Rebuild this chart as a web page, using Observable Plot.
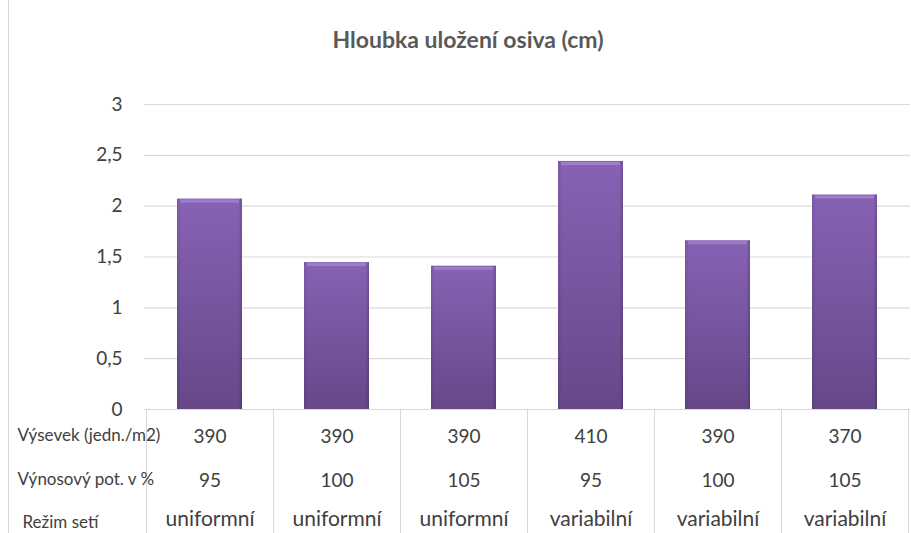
<!DOCTYPE html>
<html>
<head>
<meta charset="utf-8">
<script src="https://cdn.jsdelivr.net/npm/d3@7"></script>
<script src="https://cdn.jsdelivr.net/npm/@observablehq/plot@0.6"></script>
<style>
  body { margin: 0; background: #fff; }
  #wrap { position: relative; width: 911px; height: 533px; overflow: hidden; background: #fff; font-family: Lato, "Open Sans", sans-serif; }
  #border { position: absolute; left: 8px; top: 0; width: 1px; height: 533px; background: #d9d9d9; }
  #title { box-sizing: border-box; height: 70px; padding-top: 25px; padding-left: 25px; font-size: 23px; line-height: 28px; font-weight: bold; color: #595959; text-align: center; }
  svg { display: block; }
</style>
</head>
<body>
<div id="wrap">
  <div id="border"></div>
  <div id="title">Hloubka uložení osiva (cm)</div>
</div>
<script>
// ---- data ----
const hloubka = [2.07, 1.445, 1.41, 2.44, 1.66, 2.11];
const vysevek = [390, 390, 390, 410, 390, 370];
const vynos = [95, 100, 105, 95, 100, 105];
const rezim = ["uniformní", "uniformní", "uniformní", "variabilní", "variabilní", "variabilní"];
const rowLabels = ["Výsevek (jedn./m2)", "Výnosový pot. v %", "Režim setí"];
const yTicks = [0, 0.5, 1, 1.5, 2, 2.5, 3];

const data = hloubka.map((v, i) => ({
  key: `${rezim[i]}|${vynos[i]}|${vysevek[i]}`,
  v, vysevek: vysevek[i], vynos: vynos[i], rezim: rezim[i]
}));
const keys = data.map(d => d.key);

const grid = "#d9d9d9";
const ink = "#404040";

function defsMark() {
  const svg = d3.create("svg:g");
  const defs = svg.append("defs");
  const g = defs.append("linearGradient").attr("id", "barGrad")
    .attr("x1", 0).attr("y1", 0).attr("x2", 0).attr("y2", 1);
  g.append("stop").attr("offset", "0%").attr("stop-color", "#8762b4");
  g.append("stop").attr("offset", "100%").attr("stop-color", "#664889");
  const h = defs.append("linearGradient").attr("id", "sideGrad")
    .attr("x1", 0).attr("y1", 0).attr("x2", 1).attr("y2", 0);
  h.append("stop").attr("offset", "0%").attr("stop-color", "#000").attr("stop-opacity", 0.10);
  h.append("stop").attr("offset", "6%").attr("stop-color", "#000").attr("stop-opacity", 0);
  h.append("stop").attr("offset", "94%").attr("stop-color", "#000").attr("stop-opacity", 0);
  h.append("stop").attr("offset", "100%").attr("stop-color", "#000").attr("stop-opacity", 0.18);
  return svg.node();
}

function tableLines(index, scales, values, dimensions) {
  const x = scales.x;
  const {width, height, marginLeft, marginRight, marginBottom} = dimensions;
  const bw = x.bandwidth ? x.bandwidth() : (width - marginLeft - marginRight) / keys.length;
  const edges = keys.map(k => x(k)).concat([x(keys[keys.length - 1]) + bw]);
  const top = height - marginBottom;
  const g = d3.create("svg:g").attr("stroke", grid).attr("stroke-width", 1);
  g.selectAll("line").data(edges).join("line")
    .attr("x1", d => Math.round(d) + 0.5).attr("x2", d => Math.round(d) + 0.5)
    .attr("y1", top).attr("y2", height);
  return g.node();
}

const fmt = d => String(d).replace(".", ",");
const inset = 31;

const chart = Plot.plot({
  width: 911,
  height: 463,
  marginTop: 34,
  marginBottom: 124,
  marginLeft: 144,
  marginRight: 1,
  style: { fontFamily: "Lato, 'Open Sans', sans-serif", fontSize: "19px", color: ink, background: "white" },
  x: { type: "band", domain: keys, padding: 0, axis: null },
  y: { domain: [0, 3], ticks: yTicks, tickFormat: fmt, tickSize: 0, tickPadding: 22, label: null },
  marks: [
    defsMark,
    Plot.ruleY(yTicks, { stroke: grid, strokeWidth: 1.2 }),
    tableLines,
    Plot.barY(data, { x: "key", y: "v", fill: "url(#barGrad)", insetLeft: inset, insetRight: inset }),
    Plot.barY(data, { x: "key", y: "v", fill: "url(#sideGrad)", insetLeft: inset, insetRight: inset }),
    Plot.tickY(data, { x: "key", y: "v", stroke: "#a185cf", strokeWidth: 3, strokeOpacity: 0.8, dy: 2, insetLeft: inset + 3, insetRight: inset + 3 }),
    Plot.text(data, { x: "key", text: d => String(d.vysevek), frameAnchor: "bottom", dy: 33, fontSize: 19, fill: ink }),
    Plot.text(data, { x: "key", text: d => String(d.vynos), frameAnchor: "bottom", dy: 77, fontSize: 19, fill: ink }),
    Plot.text(data, { x: "key", text: "rezim", frameAnchor: "bottom", dy: 116, fontSize: 21, fill: ink }),
    Plot.text([rowLabels[0]], { text: d => d, frameAnchor: "bottom-left", textAnchor: "start", dx: -127, dy: 31, fontSize: 17, fill: ink }),
    Plot.text([rowLabels[1]], { text: d => d, frameAnchor: "bottom-left", textAnchor: "start", dx: -127, dy: 75, fontSize: 17, fill: ink }),
    Plot.text([rowLabels[2]], { text: d => d, frameAnchor: "bottom-left", textAnchor: "start", dx: -122, dy: 118, fontSize: 17, fill: ink })
  ]
});
document.getElementById("wrap").appendChild(chart);
</script>
</body>
</html>
